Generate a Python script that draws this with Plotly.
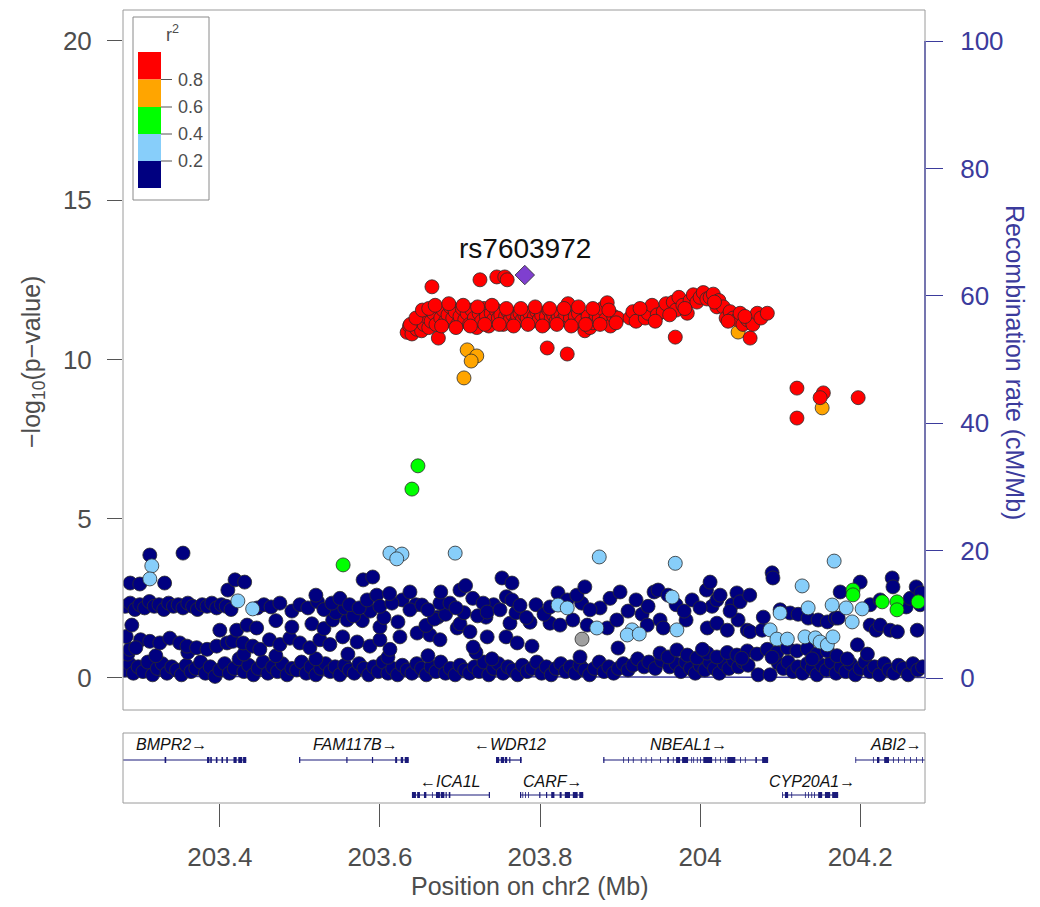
import plotly.graph_objects as go

# ------------------------------------------------------------------ data
lead_snp = "rs7603972"
lead_pos, lead_logp = 203.781, 12.65

# r2 < 0.2 (navy) -- several loose bands
navy_pos_a = [203.288, 203.300, 203.3125, 203.331, 203.354, 203.410, 203.419, 203.431, 203.579, 203.591,
              203.6375, 203.700, 203.7525, 203.765, 203.856, 204.0125, 204.090, 204.091, 204.175, 204.200,
              204.240, 204.241, 204.270, 204.276, 203.520, 203.707, 203.612, 203.676]
navy_logp_a = [2.98, 2.95, 3.86, 2.98, 3.92, 2.76, 3.08, 3.01, 3.08, 3.17,
               2.70, 2.76, 3.14, 2.98, 2.86, 3.01, 3.30, 3.14, 2.70, 3.01,
               3.14, 2.86, 2.86, 2.67, 2.60, 2.90, 2.65, 2.70]

navy_pos_b = [203.282, 203.288, 203.294, 203.300, 203.306, 203.312, 203.318, 203.324, 203.330, 203.336,
              203.342, 203.348, 203.354, 203.360, 203.366, 203.372, 203.378, 203.384, 203.390, 203.396,
              203.402, 203.408, 203.414, 203.447, 203.455, 203.464, 203.475, 203.490, 203.500, 203.510,
              203.522, 203.530, 203.540, 203.550, 203.562, 203.574, 203.584, 203.596, 203.600, 203.615,
              203.6375, 203.6525, 203.660, 203.675, 203.6875, 203.695, 203.716, 203.729, 203.734, 203.750,
              203.765, 203.775, 203.8125, 203.8225, 203.834, 203.846, 203.8625, 203.8875, 203.900, 203.910,
              203.920, 203.9425, 203.9475, 203.960, 203.980, 203.990, 204.000, 204.008, 204.021, 204.025,
              204.0375, 204.046, 204.050, 204.062, 204.079, 204.100, 204.1125, 204.1225, 204.135, 204.1475,
              204.159, 204.169, 204.1725, 204.2125, 204.225, 204.2575, 204.2625, 204.275]
navy_logp_b = [2.25, 2.35, 2.15, 2.30, 2.20, 2.40, 2.25, 2.30, 2.15, 2.35,
               2.25, 2.30, 2.20, 2.35, 2.25, 2.15, 2.30, 2.25, 2.35, 2.20,
               2.30, 2.25, 2.15, 2.20, 2.30, 2.23, 2.35, 2.10, 2.30, 2.20,
               2.40, 2.15, 2.35, 2.50, 2.30, 2.20, 2.45, 2.60, 2.25, 2.35,
               2.14, 2.29, 2.14, 2.35, 2.35, 2.20, 2.50, 2.35, 2.07, 2.14,
               2.45, 2.28, 2.23, 2.67, 2.45, 2.60, 2.14, 2.50, 2.70, 2.10,
               2.45, 2.70, 2.76, 2.60, 2.10, 2.45, 2.20, 2.76, 2.45, 2.60,
               2.10, 2.67, 2.39, 2.60, 1.91, 2.14, 2.04, 2.00, 1.88, 1.82,
               1.76, 1.88, 1.88, 2.30, 2.45, 2.23, 2.50, 2.30]

navy_pos_c = [203.290, 203.400, 203.421, 203.434, 203.446, 203.470, 203.490, 203.515, 203.530, 203.541,
              203.559, 203.578, 203.600, 203.6225, 203.6575, 203.6725, 203.700, 203.7125, 203.7325, 203.7625,
              203.7875, 203.8125, 203.825, 203.841, 203.859, 203.884, 203.896, 203.9275, 203.934, 203.950,
              203.954, 203.9825, 204.009, 204.021, 204.034, 204.0475, 204.059, 204.0625, 204.0775, 204.2125,
              204.220, 204.225, 204.2375, 204.2465, 204.2713]
navy_logp_c = [1.66, 1.50, 1.50, 1.66, 1.57, 1.80, 1.60, 1.70, 1.55, 1.82,
               1.82, 1.80, 1.60, 1.76, 1.65, 1.91, 1.70, 1.45, 1.91, 1.72,
               1.75, 1.72, 1.66, 1.82, 1.66, 1.57, 1.82, 2.00, 1.66, 1.82,
               1.57, 1.82, 1.57, 1.72, 1.50, 1.82, 1.50, 1.45, 1.50, 1.66,
               1.50, 1.66, 1.50, 1.45, 1.50]

navy_pos_d = [203.2875, 203.301, 203.3125, 203.325, 203.3375, 203.350, 203.359, 203.371, 203.384, 203.396,
              203.409, 203.416, 203.429, 203.441, 203.450, 203.462, 203.475, 203.4875, 203.500, 203.5125,
              203.525, 203.5375, 203.5535, 203.5715, 203.5875, 203.600, 203.6125, 203.625, 203.6465, 203.6625,
              203.675, 203.6965, 203.7165, 203.734, 203.7575, 203.7715, 203.790, 203.8975, 203.283, 203.295]
navy_logp_d = [0.90, 1.20, 1.15, 1.10, 1.25, 1.10, 1.00, 0.95, 0.90, 1.00,
               1.10, 1.15, 1.10, 1.00, 0.90, 1.20, 1.05, 1.25, 1.10, 0.95,
               1.20, 1.05, 1.29, 1.13, 1.00, 1.20, 0.90, 1.29, 1.41, 1.35,
               1.20, 1.57, 0.97, 1.29, 1.29, 1.10, 1.00, 0.94, 1.30, 0.95]

navy_pos_e = [203.285, 203.320, 203.360, 203.430, 203.470, 203.520, 203.560, 203.610, 203.660, 203.720,
              203.740, 203.950, 203.960, 203.971, 203.984, 203.996, 204.009, 204.021, 204.034, 204.046,
              204.059, 204.071, 204.084, 204.096, 204.109, 204.121, 204.134, 204.146, 204.159, 204.171,
              204.184, 204.1965, 204.209, 204.052, 204.090, 204.140, 204.003, 203.850]
navy_logp_e = [0.75, 0.70, 0.80, 0.75, 0.70, 0.60, 0.75, 0.65, 0.70, 0.80,
               0.60, 0.78, 0.66, 0.88, 0.72, 0.63, 0.78, 0.66, 0.80, 0.72,
               0.85, 0.75, 0.90, 0.80, 0.95, 0.85, 0.92, 0.75, 0.85, 0.70,
               0.60, 1.04, 0.75, 0.62, 0.65, 0.60, 0.90, 0.66]

navy_pos_f = [203.281, 203.287, 203.292, 203.298, 203.304, 203.310, 203.316, 203.322, 203.328, 203.334,
              203.340, 203.346, 203.352, 203.358, 203.364, 203.370, 203.376, 203.382, 203.388, 203.394,
              203.400, 203.406, 203.412, 203.418, 203.424, 203.430, 203.436, 203.442, 203.448, 203.454,
              203.460, 203.466, 203.472, 203.478, 203.484, 203.490, 203.496, 203.502, 203.508, 203.514,
              203.520, 203.526, 203.532, 203.538, 203.544, 203.550, 203.556, 203.562, 203.568, 203.574,
              203.580, 203.586, 203.592, 203.598, 203.604, 203.610, 203.616, 203.622, 203.628, 203.634,
              203.640, 203.646, 203.652, 203.658, 203.664, 203.670, 203.676, 203.682, 203.688, 203.694,
              203.700, 203.706, 203.712, 203.718, 203.724, 203.730, 203.736, 203.742, 203.748, 203.754,
              203.760, 203.766, 203.772, 203.778, 203.784, 203.790, 203.796, 203.802, 203.808, 203.814,
              203.820, 203.826, 203.832, 203.838, 203.844, 203.850, 203.856, 203.862, 203.868, 203.874,
              203.880, 203.886, 203.892, 203.898, 203.904, 203.910, 203.916, 203.922, 203.930, 203.936,
              203.944, 203.952, 203.962, 203.970, 203.976, 203.982, 203.988, 203.994, 204.000, 204.006,
              204.012, 204.018, 204.024, 204.030, 204.036, 204.042, 204.048, 204.054, 204.060, 204.0725,
              204.0875, 204.098, 204.104, 204.110, 204.116, 204.122, 204.128, 204.134, 204.140, 204.146,
              204.152, 204.158, 204.164, 204.170, 204.176, 204.182, 204.188, 204.194, 204.200, 204.206,
              204.212, 204.218, 204.224, 204.230, 204.236, 204.242, 204.248, 204.254, 204.260, 204.266,
              204.272, 204.278]
navy_logp_f = [0.25, 0.45, 0.15, 0.35, 0.20, 0.50, 0.10, 0.30, 0.45, 0.15,
               0.35, 0.25, 0.10, 0.40, 0.20, 0.30, 0.50, 0.15, 0.35, 0.05,
               0.25, 0.45, 0.15, 0.30, 0.60, 0.20, 0.40, 0.10, 0.30, 0.50,
               0.15, 0.35, 0.20, 0.45, 0.10, 0.30, 0.25, 0.50, 0.15, 0.35,
               0.10, 0.30, 0.45, 0.20, 0.35, 0.10, 0.40, 0.25, 0.15, 0.45,
               0.30, 0.10, 0.35, 0.20, 0.50, 0.15, 0.30, 0.10, 0.40, 0.25,
               0.15, 0.45, 0.30, 0.10, 0.35, 0.20, 0.50, 0.15, 0.30, 0.10,
               0.40, 0.25, 0.15, 0.35, 0.20, 0.50, 0.10, 0.30, 0.45, 0.15,
               0.35, 0.25, 0.10, 0.40, 0.20, 0.30, 0.50, 0.15, 0.35, 0.10,
               0.30, 0.45, 0.20, 0.35, 0.15, 0.40, 0.25, 0.10, 0.30, 0.50,
               0.20, 0.35, 0.15, 0.30, 0.45, 0.25, 0.40, 0.60, 0.35, 0.50,
               0.30, 0.55, 0.35, 0.45, 0.20, 0.50, 0.30, 0.15, 0.40, 0.25,
               0.50, 0.30, 0.15, 0.45, 0.30, 0.55, 0.35, 0.50, 0.40, 0.10,
               0.10, 0.45, 0.30, 0.50, 0.20, 0.35, 0.15, 0.45, 0.30, 0.10,
               0.40, 0.25, 0.50, 0.15, 0.35, 0.20, 0.45, 0.10, 0.30, 0.50,
               0.20, 0.35, 0.10, 0.45, 0.25, 0.15, 0.40, 0.30, 0.10, 0.45,
               0.25, 0.35]

navy_pos_g = [203.545, 203.556, 203.567, 203.588, 203.605, 203.628, 203.645, 203.668, 203.682, 203.705,
              203.722, 203.742, 203.758, 203.770, 203.783, 203.795, 203.805, 203.852, 203.875, 203.935,
              203.970, 204.015, 204.040]
navy_logp_g = [2.05, 2.20, 1.95, 2.10, 1.90, 2.45, 2.30, 1.85, 2.00, 2.05,
               1.95, 2.30, 2.55, 2.05, 1.90, 2.30, 2.00, 2.35, 2.20, 2.25,
               2.30, 2.25, 2.30]

grey_pos = [203.8525]
grey_logp = [1.22]

lightblue_pos = [203.315, 203.3125, 203.4225, 203.441, 203.6125, 203.6275, 203.621, 203.694, 203.874, 203.969,
                 203.8225, 203.834, 203.965, 203.871, 203.915, 203.909, 203.924, 203.971, 204.1675, 204.1275,
                 204.100, 204.0875, 204.096, 204.109, 204.135, 204.131, 204.144, 204.150, 204.159, 204.166,
                 204.165, 204.1825, 204.2025, 204.190]
lightblue_logp = [3.52, 3.11, 2.42, 2.17, 3.92, 3.89, 3.74, 3.92, 3.80, 3.60,
                  2.29, 2.20, 2.54, 1.57, 1.51, 1.35, 1.38, 1.51, 3.67, 2.89,
                  2.04, 1.51, 1.22, 1.22, 2.20, 1.29, 1.26, 1.13, 1.04, 1.29,
                  2.29, 2.20, 2.17, 1.76]

green_pos = [203.6475, 203.640, 203.554, 204.191, 204.191, 204.2275, 204.246, 204.246, 204.2725]
green_logp = [6.66, 5.93, 3.55, 2.76, 2.61, 2.39, 2.39, 2.14, 2.39]

orange_pos = [203.709, 203.721, 203.714, 203.705, 204.0475, 204.1525]
orange_logp = [10.30, 10.11, 9.95, 9.42, 10.86, 8.48]

red_pos = [203.634, 203.637, 203.640, 203.643, 203.646, 203.649, 203.652, 203.655, 203.658, 203.661,
           203.664, 203.667, 203.670, 203.673, 203.676, 203.679, 203.682, 203.685, 203.688, 203.691,
           203.694, 203.697, 203.700, 203.703, 203.706, 203.709, 203.712, 203.715, 203.718, 203.721,
           203.724, 203.727, 203.730, 203.733, 203.736, 203.739, 203.742, 203.745, 203.748, 203.751,
           203.754, 203.757, 203.760, 203.763, 203.766, 203.769, 203.772, 203.775, 203.778, 203.781,
           203.784, 203.787, 203.790, 203.793, 203.796, 203.799, 203.802, 203.805, 203.808, 203.811,
           203.814, 203.817, 203.820, 203.823, 203.826, 203.829, 203.832, 203.835, 203.838, 203.841,
           203.844, 203.848, 203.852, 203.856, 203.860, 203.8625, 203.866, 203.870, 203.874, 203.878,
           203.882, 203.884, 203.888, 203.892, 203.897,
           203.638, 203.645, 203.653, 203.661, 203.669, 203.677, 203.686, 203.695, 203.704, 203.713,
           203.722, 203.731, 203.740, 203.749, 203.758, 203.767, 203.776, 203.785, 203.794, 203.803,
           203.812, 203.821, 203.830, 203.839, 203.848, 203.857, 203.866, 203.875, 203.886, 203.895,
           203.9125, 203.916, 203.920, 203.9315, 203.935, 203.940, 203.9465, 203.954, 203.9575, 203.9665,
           203.970, 203.9735, 203.9785, 203.984, 203.9875, 203.9915, 203.996, 204.000, 204.004, 204.0085,
           204.0125, 204.0165, 204.021, 204.0235, 204.029, 204.0325, 204.0375, 204.0415, 204.0465, 204.050,
           204.0535, 204.059, 204.066, 204.0715, 204.076, 204.084,
           203.925, 203.944, 203.962, 203.981, 204.018, 204.035, 204.056,
           203.665, 203.725, 203.746, 203.756, 203.759, 203.809, 203.834, 203.969, 204.0625,
           204.121, 204.121, 204.154, 204.150, 204.1975]
red_logp = [10.85, 11.05, 10.80, 11.15, 10.95, 11.25, 10.90, 11.10, 11.35, 11.00,
            11.20, 11.45, 11.10, 10.67, 11.30, 11.55, 11.20, 11.40, 11.65, 11.30,
            11.50, 11.10, 11.35, 11.60, 11.25, 11.45, 11.10, 11.55, 11.30, 11.00,
            11.45, 11.20, 11.60, 11.35, 11.05, 11.45, 11.25, 11.55, 11.30, 11.40,
            11.10, 11.35, 11.50, 11.25, 11.40, 11.15, 11.35, 11.45, 11.25, 11.40,
            11.30, 11.45, 11.20, 11.35, 11.50, 11.25, 11.40, 11.10, 11.35, 11.55,
            11.30, 11.40, 11.20, 11.35, 11.45, 11.25, 11.40, 11.75, 11.30, 11.10,
            11.35, 11.45, 11.20, 10.90, 11.35, 11.00, 11.15, 11.40, 11.30, 11.60,
            11.25, 11.78, 11.05, 11.35, 11.30,
            11.10, 11.30, 11.55, 11.60, 11.70, 11.05, 11.75, 11.00, 11.70, 11.05,
            11.65, 11.10, 11.70, 11.10, 11.60, 11.05, 11.60, 11.10, 11.65, 11.05,
            11.60, 11.10, 11.60, 11.05, 11.65, 11.10, 11.60, 11.10, 11.55, 11.15,
            11.30, 11.50, 11.20, 11.30, 11.45, 11.70, 11.40, 11.50, 11.75, 11.80,
            11.55, 11.95, 11.70, 11.45, 11.85, 12.03, 11.80, 11.95, 12.10, 11.90,
            11.95, 12.05, 11.65, 11.85, 11.65, 11.30, 11.50, 11.30, 11.25, 11.45,
            11.10, 11.25, 11.10, 11.45, 11.30, 11.45,
            11.60, 11.20, 11.40, 11.60, 11.80, 11.20, 11.35,
            12.28, 12.50, 12.59, 12.59, 12.50, 10.36, 10.17, 10.70, 10.67,
            9.10, 8.16, 8.95, 8.80, 8.80]

recomb_pos = [203.279, 203.33, 203.40, 203.46, 203.52, 203.58, 203.64, 203.70, 203.76, 203.82,
              203.88, 203.94, 204.00, 204.06, 204.12, 204.18, 204.24, 204.281]
recomb_rate = [0.2, 0.3, 0.2, 0.3, 0.4, 0.3, 0.2, 0.1, 0.2, 0.2,
               0.1, 0.2, 0.1, 0.1, 0.2, 0.1, 0.1, 0.1]

gene_names = ["BMPR2", "FAM117B", "WDR12", "ICA1L", "CARF", "NBEAL1", "CYP20A1", "ABI2"]
gene_start = [203.242, 203.499, 203.745, 203.640, 203.775, 203.879, 204.1025, 204.194]
gene_end = [203.433, 203.636, 203.777, 203.7375, 203.854, 204.085, 204.1725, 204.312]
gene_strand = ["+", "+", "-", "-", "+", "+", "+", "+"]
gene_row = [1, 1, 1, 2, 2, 1, 2, 1]
gene_label_pos = [203.339, 203.569, 203.7625, 203.6875, 203.816, 203.985, 204.140, 204.245]
gene_exons = [
    [(203.331, 203.333), (203.384, 203.387), (203.388, 203.390), (203.395, 203.397), (203.402, 203.404),
     (203.408, 203.410), (203.417, 203.421), (203.423, 203.428), (203.429, 203.433)],
    [(203.499, 203.5005), (203.558, 203.5595), (203.590, 203.5915), (203.619, 203.6215), (203.626, 203.629),
     (203.631, 203.636)],
    [(203.745, 203.749), (203.751, 203.755), (203.756, 203.759), (203.7615, 203.763), (203.775, 203.777)],
    [(203.640, 203.645), (203.6465, 203.650), (203.655, 203.658), (203.665, 203.666), (203.670, 203.675),
     (203.676, 203.6805), (203.682, 203.6835), (203.686, 203.688), (203.736, 203.7375)],
    [(203.775, 203.7765), (203.778, 203.779), (203.7815, 203.7825), (203.785, 203.786), (203.799, 203.8005),
     (203.8075, 203.809), (203.814, 203.818), (203.8245, 203.827), (203.831, 203.8375), (203.841, 203.847),
     (203.849, 203.854)],
    [(203.879, 203.8805), (203.904, 203.905), (203.910, 203.911), (203.916, 203.917), (203.926, 203.927),
     (203.932, 203.933), (203.939, 203.940), (203.950, 203.951), (203.959, 203.961), (203.966, 203.967),
     (203.970, 203.975), (203.9775, 203.985), (203.989, 203.990), (203.9915, 203.9925), (203.996, 203.997),
     (204.000, 204.001), (204.004, 204.015), (204.019, 204.020), (204.025, 204.026), (204.031, 204.032),
     (204.034, 204.044), (204.050, 204.051), (204.056, 204.057), (204.069, 204.071), (204.0775, 204.085)],
    [(204.1025, 204.1035), (204.106, 204.110), (204.114, 204.115), (204.131, 204.132), (204.135, 204.136),
     (204.139, 204.140), (204.1425, 204.1435), (204.1475, 204.1525), (204.156, 204.1625), (204.165, 204.1725)],
    [(204.194, 204.195), (204.216, 204.217), (204.221, 204.224), (204.230, 204.236), (204.241, 204.242),
     (204.2475, 204.2485), (204.255, 204.256), (204.2625, 204.2635), (204.270, 204.271), (204.2775, 204.2785)],
]

x_tick_vals = [203.4, 203.6, 203.8, 204.0, 204.2]
x_tick_text = ["203.4", "203.6", "203.8", "204", "204.2"]
p_ticks = [0, 5, 10, 15, 20]
recomb_ticks = [0, 20, 40, 60, 80, 100]
legend_labels = ["0.8", "0.6", "0.4", "0.2"]

# ------------------------------------------------------------------ styles
FONT = "Liberation Sans, Arial, sans-serif"
TXT = "#4d4d4d"
BLUE = "#3b3b9c"
C_NAVY, C_LB, C_GREEN, C_ORANGE, C_RED, C_GREY = "#000080", "#87CEFA", "#00FF00", "#FFA500", "#FF0000", "#A0A0A0"
C_LEAD = "#7f3fcf"
OUTLINE = "#2b2b2b"
GENE_COL = "#1a1a7a"

W, H = 1040, 907
ML, MR, MT, MB = 123, 115, 10, 104
PW, PH = W - ML - MR, H - MT - MB


def fx(px):
    return (px - ML) / PW


def fy(py):
    return (H - MB - py) / PH


main_dom = [fy(710), 1.0]
gene_dom = [0.0, fy(733)]
x_range = [203.279, 204.281]
p_range = [-1.005, 20.97]
r_range = [-5.02, 104.87]

fig = go.Figure()

# recombination line (bottom layer, right axis = yaxis)
fig.add_trace(go.Scatter(x=recomb_pos, y=recomb_rate, mode="lines", xaxis="x", yaxis="y",
                         line=dict(color=BLUE, width=1.5), hoverinfo="skip"))


def pts(xs, ys, color, symbol="circle", size=14):
    fig.add_trace(go.Scatter(x=xs, y=ys, mode="markers", xaxis="x", yaxis="y2",
                             marker=dict(color=color, size=size, symbol=symbol,
                                         line=dict(color=OUTLINE, width=0.8))))


pts(navy_pos_f, navy_logp_f, C_NAVY)
pts(navy_pos_e, navy_logp_e, C_NAVY)
pts(navy_pos_d, navy_logp_d, C_NAVY)
pts(navy_pos_c, navy_logp_c, C_NAVY)
pts(navy_pos_g, navy_logp_g, C_NAVY)
pts(navy_pos_b, navy_logp_b, C_NAVY)
pts(navy_pos_a, navy_logp_a, C_NAVY)
pts(grey_pos, grey_logp, C_GREY)
pts(lightblue_pos, lightblue_logp, C_LB)
pts(green_pos, green_logp, C_GREEN)
pts(orange_pos, orange_logp, C_ORANGE)
pts(red_pos, red_logp, C_RED)
pts([lead_pos], [lead_logp], C_LEAD, symbol="diamond", size=15)

# ------------------------------------------------------------------ genes
ROW_LINE = {1: 0.614, 2: 0.114}
ROW_LABEL = {1: 0.829, 2: 0.314}
bx, by, ex, ey = [], [], [], []
annotations = []
for name, s, e, strand, row, exons, lp in zip(gene_names, gene_start, gene_end, gene_strand, gene_row,
                                              gene_exons, gene_label_pos):
    bx += [s, e, None]
    by += [ROW_LINE[row], ROW_LINE[row], None]
    for a, b in exons:
        ex += [a, b, None]
        ey += [ROW_LINE[row], ROW_LINE[row], None]
    label = name + "\u2192" if strand == "+" else "\u2190" + name
    annotations.append(dict(x=lp, y=ROW_LABEL[row], xref="x2", yref="y3", xanchor="center", yanchor="middle",
                            text="<i>" + label + "</i>", showarrow=False,
                            font=dict(family=FONT, size=16, color="#111111")))
fig.add_trace(go.Scatter(x=bx, y=by, mode="lines", xaxis="x2", yaxis="y3",
                         line=dict(color=GENE_COL, width=1.2), hoverinfo="skip"))
fig.add_trace(go.Scatter(x=ex, y=ey, mode="lines", xaxis="x2", yaxis="y3",
                         line=dict(color=GENE_COL, width=6), hoverinfo="skip"))

# ------------------------------------------------------------------ text
annotations += [
    dict(x=lead_pos, y=lead_logp, xref="x", yref="y2", yshift=27, xanchor="center", yanchor="middle",
         text=lead_snp, showarrow=False, font=dict(family=FONT, size=28, color="#111111")),
    dict(x=fx(33), y=fy(362), xref="paper", yref="paper", xanchor="center", yanchor="middle",
         text="\u2212log<sub>10</sub>(p\u2212value)",
         textangle=-90, showarrow=False, font=dict(family=FONT, size=25, color=TXT)),
    dict(x=fx(1015), y=fy(362), xref="paper", yref="paper", xanchor="center", yanchor="middle",
         text="Recombination rate (cM/Mb)",
         textangle=90, showarrow=False, font=dict(family=FONT, size=25, color=BLUE)),
    dict(x=fx(530), y=fy(886), xref="paper", yref="paper", xanchor="center", yanchor="middle",
         text="Position on chr2 (Mb)",
         showarrow=False, font=dict(family=FONT, size=25, color=TXT)),
    dict(x=fx(172), y=fy(34), xref="paper", yref="paper", xanchor="center", yanchor="middle",
         text="r<sup>2</sup>", showarrow=False, font=dict(family=FONT, size=18, color=TXT)),
]

shapes = [
    dict(type="rect", xref="paper", yref="paper", x0=0, x1=1, y0=main_dom[0], y1=1,
         line=dict(color="#9a9a9a", width=1), layer="above"),
    dict(type="rect", xref="paper", yref="paper", x0=0, x1=1, y0=gene_dom[0], y1=gene_dom[1],
         line=dict(color="#9a9a9a", width=1), layer="above"),
    dict(type="line", xref="paper", yref="y", x0=1, x1=1, y0=recomb_ticks[0], y1=recomb_ticks[-1],
         line=dict(color=BLUE, width=1.2)),
    # r2 legend box
    dict(type="rect", xref="paper", yref="paper", x0=fx(133), x1=fx(209), y0=fy(200), y1=fy(17),
         fillcolor="white", line=dict(color="#8a8a8a", width=1), layer="above"),
]
legend_cols = [C_RED, C_ORANGE, C_GREEN, C_LB, C_NAVY]
legend_edges = [52, 79.5, 107, 134, 161, 188]
for i, c in enumerate(legend_cols):
    shapes.append(dict(type="rect", xref="paper", yref="paper", x0=fx(138), x1=fx(161),
                       y0=fy(legend_edges[i + 1]), y1=fy(legend_edges[i]), fillcolor=c,
                       line=dict(width=0), layer="above"))
for i, lab in enumerate(legend_labels):
    yy = legend_edges[i + 1]
    shapes.append(dict(type="line", xref="paper", yref="paper", x0=fx(161), x1=fx(172),
                       y0=fy(yy), y1=fy(yy), line=dict(color="#555555", width=1), layer="above"))
    annotations.append(dict(x=fx(176), y=fy(yy), xref="paper", yref="paper", text=lab,
                            xanchor="left", yanchor="middle",
                            showarrow=False, font=dict(family=FONT, size=18, color=TXT)))

fig.update_layout(
    width=W, height=H, margin=dict(l=ML, r=MR, t=MT, b=MB, pad=0, autoexpand=False),
    paper_bgcolor="white", plot_bgcolor="white", showlegend=False,
    font=dict(family=FONT, color=TXT),
    xaxis=dict(domain=[0, 1], range=x_range, anchor="y", showticklabels=False, ticks="",
               showgrid=False, zeroline=False, showline=False, automargin=False),
    yaxis=dict(domain=main_dom, range=r_range, anchor="x", side="right", tickvals=recomb_ticks,
               ticks="outside", ticklen=17, tickwidth=1.2, tickcolor=BLUE, ticklabelstandoff=12,
               tickfont=dict(family=FONT, size=26, color=BLUE), automargin=False,
               showgrid=False, zeroline=False, showline=False),
    yaxis2=dict(domain=main_dom, range=p_range, anchor="x", overlaying="y", side="left", tickvals=p_ticks,
                ticks="outside", ticklen=15, tickwidth=1, tickcolor="#555555", ticklabelstandoff=10,
                tickfont=dict(family=FONT, size=26, color=TXT), automargin=False,
                showgrid=False, zeroline=False, showline=False),
    xaxis2=dict(domain=[0, 1], range=x_range, anchor="y3", tickvals=x_tick_vals, ticktext=x_tick_text,
                ticks="outside", ticklen=23, tickwidth=1, tickcolor="#555555", ticklabelstandoff=8,
                tickfont=dict(family=FONT, size=26, color=TXT), automargin=False,
                showgrid=False, zeroline=False, showline=False),
    yaxis3=dict(domain=gene_dom, range=[0, 1], anchor="x2", visible=False, fixedrange=True,
                automargin=False),
    shapes=shapes, annotations=annotations,
)

fig.write_html("out.html", config={"displayModeBar": False},
               post_script="document.body.style.margin='0px';")
